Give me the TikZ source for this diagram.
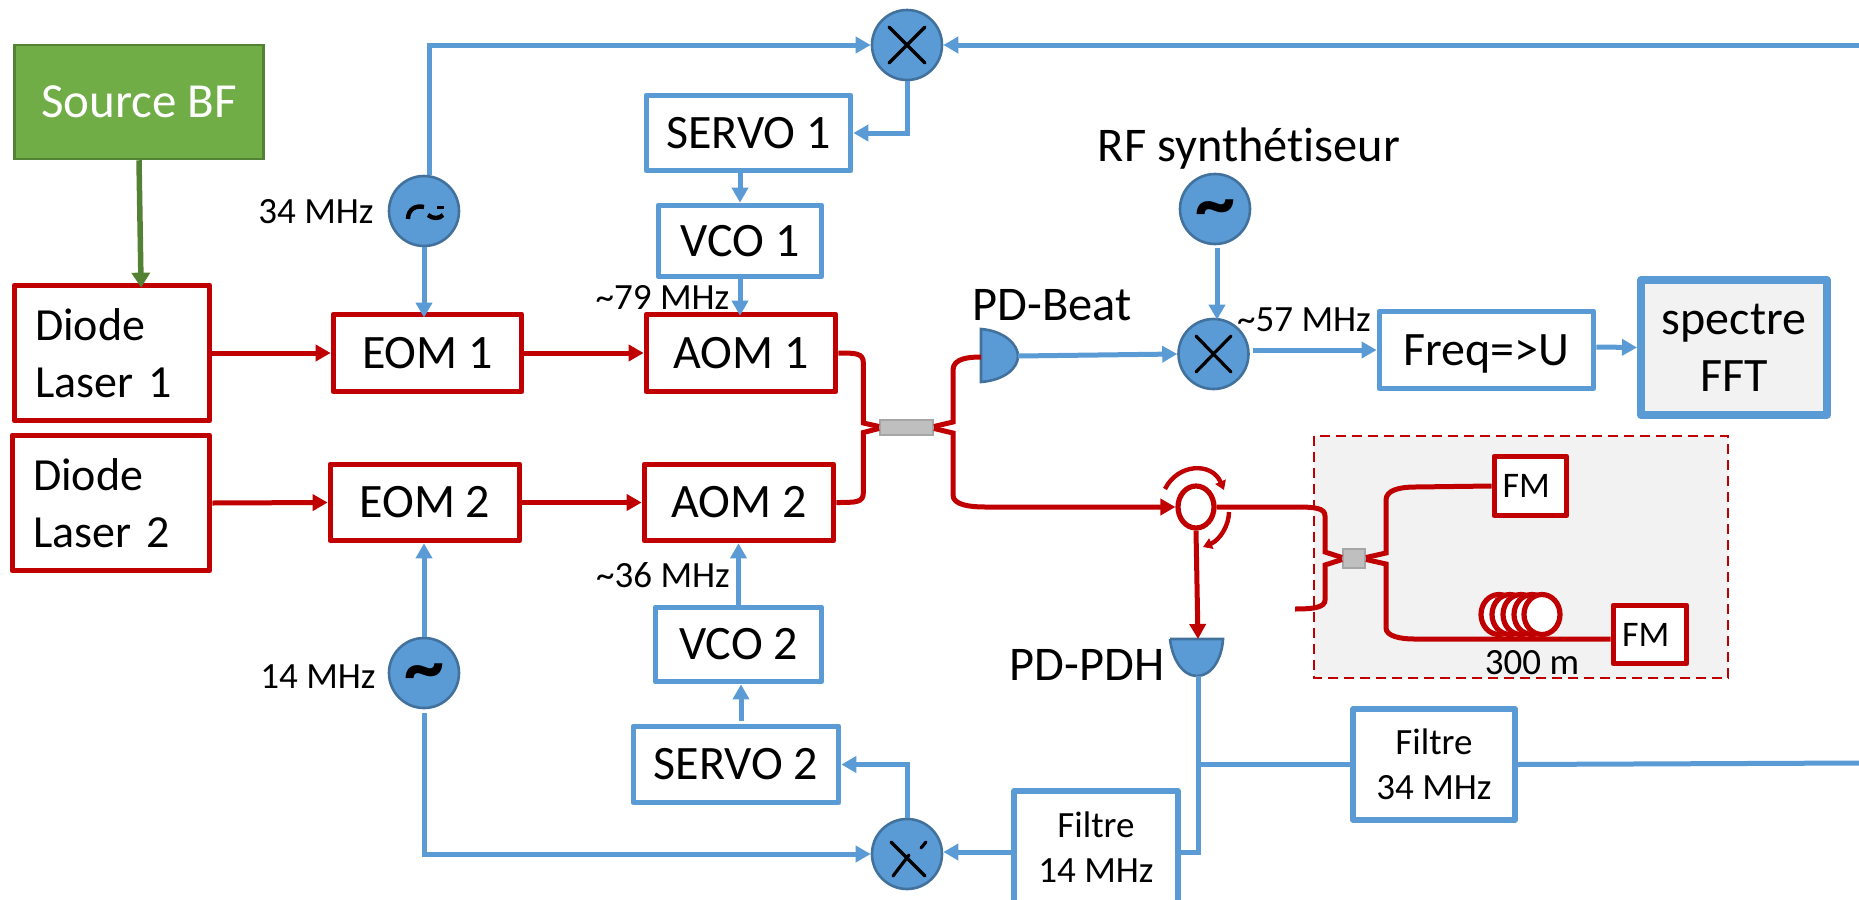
\documentclass[tikz,border=0pt]{standalone}
\usepackage{fontspec}
\setmainfont[Ligatures=NoCommon]{Carlito}
\usepackage{tikz}
\usetikzlibrary{positioning,arrows.meta,shapes.geometric}
\definecolor{labred}{HTML}{C00000}
\definecolor{labblue}{HTML}{5B9BD5}
\definecolor{labedge}{HTML}{41719C}
\definecolor{labgreen}{HTML}{70AD47}
\definecolor{labgreend}{HTML}{548235}
\definecolor{labpale}{HTML}{F2F2F2}
\tikzset{
  sz/.style 2 args={minimum width=#1*0.5pt,minimum height=#2*0.5pt},
  boxbase/.style={rectangle,draw,line width=2.6pt,line join=round,fill=white,inner sep=0pt,
    font=\fontsize{24}{28.5}\selectfont,align=center},
  redbox/.style={boxbase,draw=labred},
  bluebox/.style={boxbase,draw=labblue},
  smalltext/.style={font=\fontsize{18.5}{22.5}\selectfont,align=center,inner sep=0pt},
  bigtext/.style={font=\fontsize{24.2}{28.5}\selectfont,align=center,inner sep=0pt},
  round/.style={circle,draw=labedge,fill=labblue,line width=1.3pt,minimum size=35pt,inner sep=0pt},
  tilde/.style={round,font=\fontsize{40}{40}\selectfont\bfseries,text height=0pt,text depth=0pt},
  cross/.style={line width=1.6pt,line cap=round},
  blueline/.style={draw=labblue,line width=2.5pt},
  bluearrow/.style={blueline,-{Triangle[length=7.5pt,width=8pt]}},
  fibre/.style={draw=labred,line width=2.5pt},
  redarrow/.style={fibre,-{Triangle[length=7.5pt,width=8pt]}},
  detector/.style={draw=labedge,fill=labblue,line width=1.3pt},
  coupler/.style={rectangle,draw=black!35,fill=black!25,line width=1pt,inner sep=0pt},
  ring/.style={ellipse,draw=labred,fill=white,line width=2.6pt,inner sep=0pt},
}
\begin{document}
\begin{tikzpicture}[x=0.5pt,y=-0.5pt]
\useasboundingbox (0,0) rectangle (1859,900);
% lab box
\fill[labpale] (1314,436) rectangle (1728,678);
\draw[labred,line width=1.25pt,dash pattern=on 5pt off 3pt] (1314,436) rectangle (1728,678);
% boxes
\node[rectangle,draw=labgreend,fill=labgreen,line width=1.25pt,sz={249}{114},text=white,
  font=\fontsize{24.5}{28.5}\selectfont] (srcbf) at (139,102) {Source BF};
\node[redbox,sz={195.5}{135.5},text width=77pt,align=left,font=\fontsize{23}{28.5}\selectfont] (diodea) at (112,353) {Diode\\Laser 1};
\node[redbox,sz={197.5}{135.5},text width=78pt,align=left,font=\fontsize{23}{28.5}\selectfont] (diodeb) at (111,503) {Diode\\Laser 2};
\node[redbox,sz={188.5}{77.5}] (eoma) at (427.5,353) {EOM 1};
\node[redbox,sz={189.5}{76.5}] (eomb) at (425,502.5) {EOM 2};
\node[redbox,sz={189.5}{77.5}] (aoma) at (741,353) {AOM 1};
\node[redbox,sz={189.5}{76.5}] (aomb) at (739,502.5) {AOM 2};
\node[bluebox,sz={204.5}{75.5}] (servoa) at (748.5,133) {SERVO 1};
\node[bluebox,sz={163.5}{71.5}] (vcoa) at (740,241) {VCO 1};
\node[bluebox,sz={205.5}{76.5}] (servob) at (736,764.5) {SERVO 2};
\node[bluebox,sz={166.5}{74.5}] (vcob) at (738.5,644.5) {VCO 2};
\node[bluebox,sz={214.5}{77.5},text depth=0pt] (freq) at (1486.5,350) {Freq=>U};
\node[bluebox,sz={186}{135},line width=4pt,fill=labpale] (fft) at (1734,347.5) {spectre\\FFT};
\node[bluebox,sz={164}{112},smalltext] (filtb) at (1096,847) {Filtre\\14 MHz};
\node[bluebox,sz={162}{111},smalltext] (filtc) at (1434,764.5) {Filtre\\34 MHz};
\node[redbox,sz={72.5}{59.5},font=\fontsize{18}{18}\selectfont,text width=28pt,align=left] (fma) at (1530.5,486) {FM};
\node[redbox,sz={73.5}{58.5},font=\fontsize{18}{18}\selectfont,text width=28pt,align=left] (fmb) at (1650,634.5) {FM};
% sources and mixers
\node[round] (osca) at (424,211) {};
\node[tilde] (oscb) at (424,673) {\raisebox{-0.25em}{\textasciitilde}};
\node[tilde] (oscc) at (1215,209) {\raisebox{-0.25em}{\textasciitilde}};
\node[round] (mixa) at (907,45) {};
\node[round] (mixb) at (1213.5,354) {};
\node[round] (mixc) at (907,854) {};
% crosses
\draw[cross] (889,27) -- (925,63) (925,27) -- (889,63);
\draw[cross] (1196,336) -- (1231,372) (1231,336) -- (1196,372);
\draw[cross] (891,842) -- (925,876) (909,855) -- (893,876) (926,842) -- (921,848);
% broken tilde of the 34 MHz source
\draw[line width=2.2pt] (408,219) .. controls (408,209) and (416,205) .. (424,207);
\draw[line width=2.2pt] (428,215) .. controls (433,219) and (439,219) .. (443,215);
\draw[line width=1.5pt] (437,207) -- (444,207);
% photodiodes
\draw[detector] (981,329) .. controls (1005,331) and (1018,345) .. (1018,356)
  .. controls (1018,368) and (1005,380) .. (981,382) -- cycle;
\draw[detector] (1170,639) -- (1223,639) .. controls (1222,658) and (1212,676) .. (1197,676)
  .. controls (1182,676) and (1172,658) .. (1170,639);
\coordinate (pdain) at (981,357);
\coordinate (pdaout) at (1018,356);
\coordinate (pdbin) at (1198,639);
\coordinate (pdbout) at (1198,676);
\coordinate (edgea) at (1859,45);
\coordinate (edgeb) at (1859,763);
\coordinate (stuba) at (1296,507);
\coordinate (stubb) at (1295,609);
% couplers and circulator
\node[coupler,sz={53}{15}] (spla) at (906.5,427.5) {};
\node[coupler,sz={22}{19}] (splb) at (1354,558.5) {};
\node[ring,sz={36}{42}] (circ) at (1196,507) {};
\foreach \ringnum/\ringx in {1/1499,2/1510,3/1521,4/1532,5/1542}
  \node[ring,sz={36}{40}] (coil\ringnum) at (\ringx,614.5) {};
% texts
\node[smalltext] (lbla) at (316,212) {34 MHz};
\node[smalltext] (lblb) at (318,677) {14 MHz};
\node[smalltext] (lblc) at (662.5,297) {\textasciitilde 79 MHz};
\node[smalltext] (lbld) at (663,575) {\textasciitilde 36 MHz};
\node[smalltext] (lble) at (1304,320) {\textasciitilde 57 MHz};
\node[smalltext] (lblf) at (1532,663) {300 m};
\node[bigtext] (lblg) at (1052,305) {PD-Beat};
\node[bigtext] (lblh) at (1087,665) {PD-PDH};
\node[bigtext] (lbli) at (1249,149) {RF synthétiseur};
% green link
\draw[draw=labgreend,line width=2.75pt,-{Triangle[length=7.5pt,width=9pt]},shorten >=-2.5pt] (srcbf.south) -- ([xshift=14.5pt]diodea.north);
% red links
\draw[redarrow] (diodea.east) -- (eoma.west);
\draw[redarrow] (diodeb.east) -- (eomb.west);
\draw[redarrow] (eoma.east) -- (aoma.west);
\draw[redarrow] (eomb.east) -- (aomb.west);
\draw[fibre] (aoma.east) .. controls +(17,0) and +(0,-10) .. +(25,10) -- +(25,70) -- ([yshift=0.5pt]spla.west);
\draw[fibre] (aomb.east) .. controls +(20,0) and +(0,10) .. +(27,-10) -- +(27,-70) -- ([yshift=-0.5pt]spla.west);
\draw[fibre] ([yshift=0.5pt]spla.east) -- (953,422) -- (953,370) .. controls (953,358) and (970,357) .. (pdain);
\draw[redarrow] ([yshift=-0.5pt]spla.east) -- (953,433) -- (953,495) .. controls (953,505) and (970,507) .. (985,507) -- (circ.west);
\draw[fibre] (circ.east) -- (stuba) .. controls (1315,507) and (1325,508) .. (1325,516) -- (1325,552) -- ([yshift=0.5pt]splb.west);
\draw[fibre] (stubb) .. controls (1315,609) and (1325,607) .. (1325,600) -- (1325,565) -- ([yshift=-0.5pt]splb.west);
\draw[fibre] ([yshift=0.5pt]splb.east) -- (1386,553) -- (1386,500) .. controls (1386,490) and (1400,487) .. (1415,487) -- (fma.west);
\draw[fibre] ([yshift=-0.5pt]splb.east) -- (1386,564) -- (1386,628) .. controls (1386,636) and (1400,639) .. (1414,639) -- (fmb.west |- 0,639);
\draw[redarrow] (circ.south) -- (pdbin);
\draw[labred,line width=2.2pt,-{Triangle[length=4.5pt,width=5.5pt]}] (1165,489) .. controls (1178,463) and (1212,462) .. (1224,490);
\draw[labred,line width=2.2pt,-{Triangle[length=4.5pt,width=5.5pt]}] (1229,512) .. controls (1229,525) and (1220,540) .. (1203,547);
% blue links
\draw[bluearrow] ([xshift=2.5pt]osca.north) |- (mixa.west);
\draw[bluearrow] (edgea) -- (mixa.east);
\draw[bluearrow] (mixa.south) |- (servoa.east);
\draw[bluearrow] (vcoa.north |- servoa.south) -- (vcoa.north);
\draw[bluearrow,shorten >=-2pt] (vcoa.south) -- (vcoa.south |- aoma.north);
\draw[bluearrow,shorten >=-3pt] (osca.south) -- (osca.south |- eoma.north);
\draw[bluearrow] (oscb.north) -- (oscb.north |- eomb.south);
\draw[bluearrow] (vcob.north) -- (vcob.north |- aomb.south);
\draw[bluearrow] ([xshift=2.5pt,yshift=1.5pt]servob.north) -- ([xshift=1.25pt]vcob.south);
\draw[bluearrow] (mixc.north) |- (servob.east);
\draw[bluearrow] ([yshift=-2pt]oscb.south) |- (mixc.west);
\draw[bluearrow] ([yshift=-2.5pt]filtb.west) -- (mixc.east |- 0,852);
\draw[blueline] (pdbout) |- ([yshift=-2.5pt]filtb.east);
\draw[blueline] (pdbout |- filtc.west) -- (filtc.west);
\draw[blueline] (filtc.east) -- (edgeb);
\draw[bluearrow] (pdaout) -- (mixb.west);
\draw[bluearrow,shorten >=-1pt] ([yshift=-1.5pt,xshift=1pt]oscc.south) -- ([xshift=1.75pt]mixb.north);
\draw[bluearrow] ([xshift=1.5pt]mixb.east |- freq.west) -- (freq.west);
\draw[bluearrow] (freq.east |- 0,347) -- (fft.west);
\end{tikzpicture}
\end{document}
